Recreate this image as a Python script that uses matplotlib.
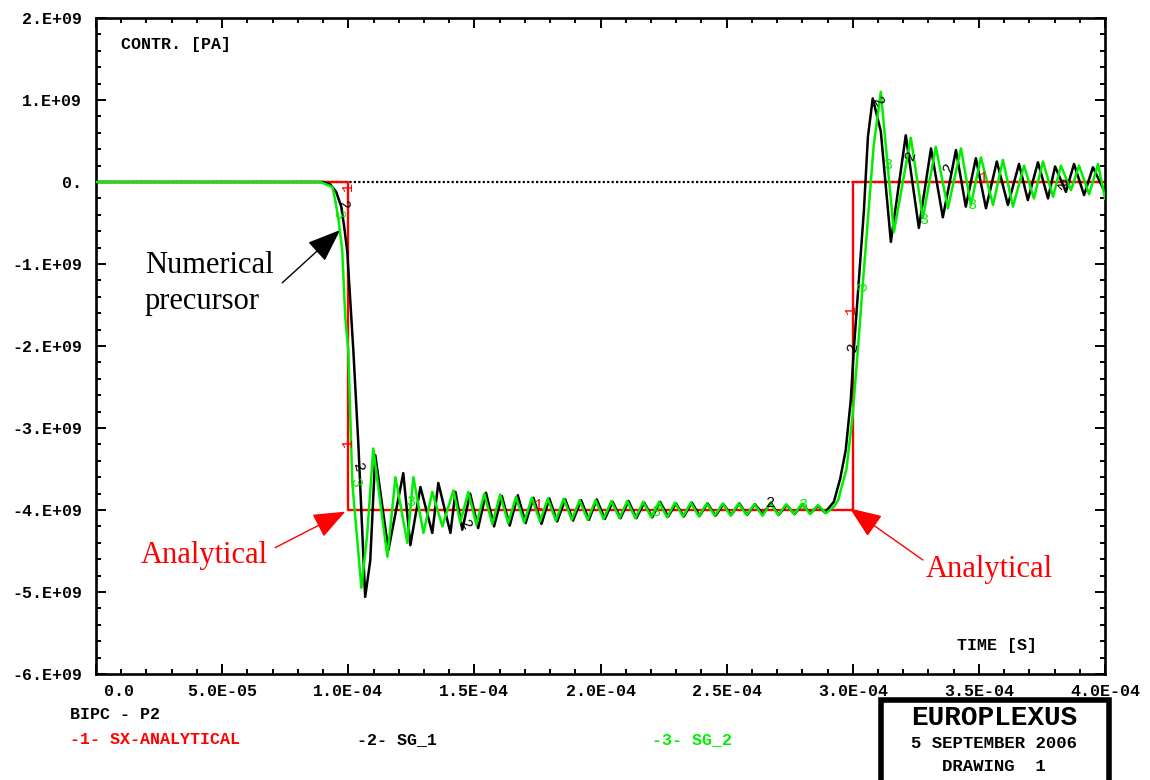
import numpy as np
import matplotlib
matplotlib.use("Agg")
import matplotlib.pyplot as plt
from matplotlib.ticker import MultipleLocator
import matplotlib.transforms as mtransforms
from matplotlib.patches import Rectangle

# stress history at gauge P2, time in microseconds, stress in GPa
analytical_t_us = [0.0, 100.0, 100.0, 300.0, 300.0, 400.0]
analytical_gpa = [0.0, 0.0, -4.0, -4.0, 0.0, 0.0]

sg1_t_us = [0.0, 90.0, 92.9, 95.2, 97.2, 98.4, 99.6, 102.0, 104.0, 106.7, 108.7, 110.7,
            115.9, 121.8, 124.6, 128.6, 133.3, 135.7, 140.5, 142.5, 145.2,
            148.3, 151.5, 154.6, 157.8, 160.9, 164.0, 167.2, 170.3, 173.4, 176.6,
            179.7, 182.8, 186.0, 189.1, 192.3, 195.4, 198.5, 201.7, 204.8, 207.9,
            211.1, 214.2, 217.3, 220.5, 223.6, 226.8, 229.9, 233.0, 236.2, 239.3,
            242.4, 245.6, 248.7, 251.8, 255.0, 258.1, 261.2, 264.4, 267.5, 270.6,
            273.8, 276.9, 280.0, 283.2, 286.3, 289.0, 292.5,
            295.0, 297.2, 299.2, 300.4, 302.4, 304.4, 306.0, 307.9,
            311.1, 315.1, 321.0, 326.2, 331.0, 335.7, 340.9, 344.8,
            348.8, 352.8, 357.1, 361.5, 365.9, 369.4, 373.4, 377.4, 380.2, 384.5,
            387.7, 391.7, 395.2, 400.0]
sg1_gpa = [0.0, 0.0, -0.03, -0.12, -0.30, -0.55, -0.85, -2.05, -3.20, -5.06, -4.62, -3.33,
           -4.49, -3.55, -4.43, -3.72, -4.28, -3.67, -4.28, -3.78, -4.24,
           -3.80, -4.22, -3.79, -4.20, -3.83, -4.19, -3.82, -4.16, -3.85, -4.17,
           -3.86, -4.14, -3.87, -4.13, -3.88, -4.12, -3.87, -4.11, -3.90, -4.10,
           -3.89, -4.10, -3.91, -4.09, -3.90, -4.08, -3.92, -4.08, -3.91, -4.07,
           -3.92, -4.07, -3.93, -4.06, -3.92, -4.06, -3.93, -4.05, -3.91, -4.06,
           -3.94, -4.05, -3.93, -4.04, -3.95, -4.03, -3.90,
           -3.62, -3.27, -2.66, -2.05, -1.20, -0.35, 0.55, 1.02,
           0.62, -0.73, 0.57, -0.56, 0.41, -0.43, 0.39, -0.30,
           0.29, -0.32, 0.25, -0.28, 0.22, -0.22, 0.24, -0.20, 0.19, -0.12,
           0.22, -0.16, 0.18, -0.13]

sg2_t_us = [0.0, 89.0, 93.7, 94.8, 96.0, 97.6, 98.8, 100.0, 101.6, 105.2, 107.5, 109.9,
            115.5, 118.7, 123.4, 125.8, 129.8, 133.3, 137.3, 141.7, 144.4,
            147.6, 150.8, 153.9, 157.1, 160.2, 163.4, 166.5, 169.7, 172.8, 176.0,
            179.1, 182.3, 185.4, 188.6, 191.7, 194.9, 198.0, 201.2, 204.3, 207.5,
            210.6, 213.8, 216.9, 220.1, 223.2, 226.4, 229.5, 232.7, 235.8, 239.0,
            242.1, 245.3, 248.4, 251.6, 254.7, 257.9, 261.0, 264.2, 267.3, 270.5,
            273.6, 276.8, 279.9, 283.1, 286.2, 289.4, 292.5, 294.2,
            297.5, 299.9, 302.0, 304.0, 305.2, 308.3, 311.1,
            316.3, 323.0, 327.8, 332.9, 337.7, 342.9, 346.8,
            350.8, 355.6, 359.5, 363.5, 367.9, 371.8, 375.4, 379.4, 382.5, 386.5,
            389.7, 393.7, 397.2, 400.0]
sg2_gpa = [0.0, 0.0, -0.06, -0.22, -0.43, -0.83, -1.65, -2.05, -3.67, -4.95, -4.30, -3.25,
           -4.57, -3.60, -4.40, -3.60, -4.28, -3.78, -4.20, -3.76, -4.15,
           -3.78, -4.18, -3.80, -4.17, -3.81, -4.16, -3.84, -4.15, -3.85, -4.14,
           -3.86, -4.13, -3.86, -4.12, -3.88, -4.12, -3.88, -4.11, -3.89, -4.10,
           -3.89, -4.10, -3.90, -4.09, -3.90, -4.09, -3.91, -4.08, -3.91, -4.08,
           -3.92, -4.07, -3.92, -4.07, -3.92, -4.06, -3.93, -4.07, -3.92, -4.06,
           -3.93, -4.05, -3.92, -4.05, -3.94, -4.04, -3.96, -3.88,
           -3.50, -2.86, -2.05, -1.23, -0.77, 0.45, 1.10,
           -0.61, 0.54, -0.44, 0.43, -0.32, 0.41, -0.28,
           0.30, -0.28, 0.27, -0.30, 0.20, -0.20, 0.25, -0.18, 0.20, -0.10,
           0.20, -0.15, 0.22, -0.20]

x_tick_labels = ["0.0", "5.0E-05", "1.0E-04", "1.5E-04", "2.0E-04",
                 "2.5E-04", "3.0E-04", "3.5E-04", "4.0E-04"]
y_tick_labels = ["-6.E+09", "-5.E+09", "-4.E+09", "-3.E+09", "-2.E+09",
                 "-1.E+09", "0.", "1.E+09", "2.E+09"]

# curve identifiers written along each line: (t_us, GPa, rotation)
red_marks = [(100.0, -0.05, 90), (100.0, -3.18, 90), (175.4, -3.94, 0),
             (299.2, -1.56, 90), (352.0, 0.05, 0)]
black_marks = [(98.0, -0.28, -75), (104.0, -3.48, -75), (146.4, -4.18, -60),
               (267.5, -3.91, 0), (300.0, -2.01, 80), (310.0, 0.98, -60),
               (323.0, 0.33, 70), (338.0, 0.18, 70), (382.5, -0.04, -45)]
green_marks = [(96.0, -0.40, -75), (102.8, -3.66, -75), (124.6, -3.90, 0),
               (221.8, -4.02, 0), (280.0, -3.94, 0), (304.0, -1.28, 80),
               (314.0, 0.21, 0), (328.0, -0.46, 0), (347.0, -0.28, 0)]

RED = "#ff0000"
GREEN = "#00ee00"
BLACK = "#000000"
MONO = "Liberation Mono"
SERIF = "Liberation Serif"

US = 1e-6
GPA = 1e9

fig = plt.figure(figsize=(11.5, 7.8), dpi=100)
ax = fig.add_axes([0.0835, 0.1359, 0.8774, 0.8410])

ax.axhline(0.0, color=BLACK, lw=1.6, ls=(0, (1, 1)), zorder=1)
ax.plot(np.array(analytical_t_us) * US, np.array(analytical_gpa) * GPA,
        color=RED, lw=1.7, zorder=2)
ax.plot(np.array(sg1_t_us) * US, np.array(sg1_gpa) * GPA, color=BLACK, lw=1.8, zorder=3)
ax.plot(np.array(sg2_t_us) * US, np.array(sg2_gpa) * GPA, color=GREEN, lw=1.8, zorder=4)

for marks, txt, col in [(red_marks, "1", RED), (black_marks, "2", BLACK), (green_marks, "3", GREEN)]:
    for t, v, rot in marks:
        ax.text(t * US, v * GPA, txt, color=col, fontsize=11, family=MONO,
                ha="center", va="center", rotation=rot, zorder=5)

ax.set_xlim(0, 4e-4)
ax.set_ylim(-6e9, 2e9)
ax.set_xticks([float(s) for s in x_tick_labels], x_tick_labels)
ax.set_yticks([float(s) for s in y_tick_labels], y_tick_labels)
ax.xaxis.set_minor_locator(MultipleLocator(1e-5))
ax.yaxis.set_minor_locator(MultipleLocator(2e8))
ax.tick_params(which="both", direction="in", top=True, right=True, width=1.4)
ax.tick_params(which="major", length=7)
ax.tick_params(which="minor", length=3.6)
ax.tick_params(axis="x", pad=7)
ax.tick_params(axis="y", pad=10)
for lab in ax.get_xticklabels() + ax.get_yticklabels():
    lab.set_family(MONO)
    lab.set_weight("bold")
    lab.set_fontsize(12)
first = ax.get_xticklabels()[0]
first.set_ha("left")
first.set_transform(first.get_transform() + mtransforms.ScaledTranslation(8 / 100, 0, fig.dpi_scale_trans))
for sp in ax.spines.values():
    sp.set_linewidth(1.9)

ax.text(0.0248, 0.960, "CONTR. [PA]", transform=ax.transAxes, family=MONO,
        weight="bold", fontsize=12, ha="left", va="center")
ax.text(0.9326, 0.044, "TIME [S]", transform=ax.transAxes, family=MONO,
        weight="bold", fontsize=12, ha="right", va="center")

# annotations
ax.text(19.4 * US, -1.02 * GPA, "Numerical", family=SERIF, fontsize=22,
        ha="left", va="center", color=BLACK)
ax.text(19.4 * US, -1.46 * GPA, "precursor", family=SERIF, fontsize=22,
        ha="left", va="center", color=BLACK)
ax.annotate("", xy=(96.8 * US, -0.585 * GPA), xytext=(73.8 * US, -1.23 * GPA),
            arrowprops=dict(arrowstyle="-|>,head_length=1.05,head_width=0.4",
                            mutation_scale=20, color=BLACK, lw=1.0, shrinkA=0, shrinkB=0))
ax.text(17.9 * US, -4.55 * GPA, "Analytical", family=SERIF, fontsize=22,
        ha="left", va="center", color=RED)
ax.annotate("", xy=(98.8 * US, -4.02 * GPA), xytext=(71.0 * US, -4.46 * GPA),
            arrowprops=dict(arrowstyle="-|>,head_length=1.0,head_width=0.4",
                            mutation_scale=20, color=RED, lw=1.0, shrinkA=0, shrinkB=0))
ax.text(329.0 * US, -4.73 * GPA, "Analytical", family=SERIF, fontsize=22,
        ha="left", va="center", color=RED)
ax.annotate("", xy=(298.8 * US, -3.98 * GPA), xytext=(327.8 * US, -4.61 * GPA),
            arrowprops=dict(arrowstyle="-|>,head_length=1.0,head_width=0.4",
                            mutation_scale=20, color=RED, lw=1.0, shrinkA=0, shrinkB=0))

# legend block under the axes
fig.text(0.0609, 0.0846, "BIPC - P2", family=MONO, weight="bold", fontsize=12,
         ha="left", va="center")
fig.text(0.0609, 0.0513, "-1- SX-ANALYTICAL", family=MONO, weight="bold", fontsize=12,
         ha="left", va="center", color=RED)
fig.text(0.3104, 0.0513, "-2- SG_1", family=MONO, weight="bold", fontsize=12,
         ha="left", va="center", color=BLACK)
fig.text(0.567, 0.0513, "-3- SG_2", family=MONO, weight="bold", fontsize=12,
         ha="left", va="center", color=GREEN)

# title block
fig.patches.append(Rectangle((0.7665, -0.01), 0.198, 0.1126, transform=fig.transFigure,
                             fill=False, lw=4.0, edgecolor=BLACK))
fig.text(0.8645, 0.0795, "EUROPLEXUS", family=MONO, weight="bold", fontsize=20,
         ha="center", va="center")
fig.text(0.8645, 0.0474, "5 SEPTEMBER 2006", family=MONO, weight="bold", fontsize=12.5,
         ha="center", va="center")
fig.text(0.8645, 0.0167, "DRAWING  1", family=MONO, weight="bold", fontsize=12.5,
         ha="center", va="center")

fig.savefig("out.png", dpi=100)
